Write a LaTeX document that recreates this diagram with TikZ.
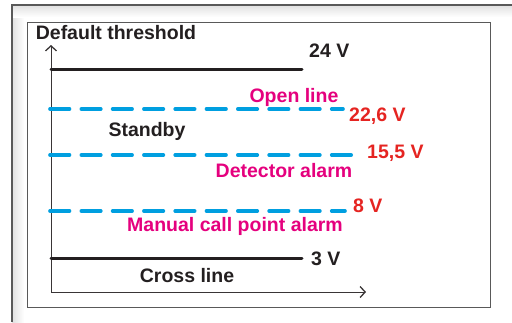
\documentclass[tikz,border=0pt]{standalone}
\usepackage{fontspec}
\setmainfont{Liberation Sans}
\usetikzlibrary{arrows.meta}
\definecolor{lineblue}{HTML}{009FE0}
\definecolor{magentatxt}{HTML}{E5007E}
\definecolor{redtxt}{HTML}{E52421}
\definecolor{darktxt}{HTML}{231F20}
\tikzset{
  lbl/.style={font=\fontsize{19.5pt}{21pt}\selectfont\bfseries, inner sep=0pt, text=darktxt},
  maglbl/.style={lbl, text=magentatxt},
  redlbl/.style={lbl, text=redtxt},
  solidlevel/.style={line width=3pt, draw=darktxt, line cap=round},
  dashlevel/.style={line width=3.6pt, draw=lineblue, line cap=round, dash pattern=on 19.5pt off 11.8pt},
  axisline/.style={line width=0.9pt, draw=darktxt!90, -{Straight Barb[length=5pt,width=11pt,line width=1.3pt]}},
}
\begin{document}
\begin{tikzpicture}[x=1pt,y=-1pt]
\useasboundingbox (0,0) rectangle (512,322);
\fill[white] (0,0) rectangle (512,322);
% outer frame with subtle shadow
\shade[left color=black!12, right color=white] (12,5) rectangle (24,322);
\shade[top color=black!12, bottom color=white] (12,5) rectangle (512,17);
\fill[white] (27,22) rectangle (490,307);
\draw[line width=1.2pt, draw=black!65] (12,322) -- (12,5) -- (512,5);
% inner frame
\draw[line width=0.9pt, draw=black!65] (27,22) rectangle (490,307);
% axes
\coordinate (O) at (51,292);
\coordinate (ytip) at (51,45);
\coordinate (xtip) at (366,292);
\draw[axisline] (O) -- (ytip);
\draw[axisline] (O) -- (xtip);
\node[lbl] (title) at (116,33) {Default threshold};
% 24 V
\coordinate (a1) at (51,69); \coordinate (a2) at (302,69);
\draw[solidlevel] (a1) -- (a2);
\node[lbl, anchor=west] (v24) at (309,51) {24 V};
% open line
\coordinate (b1) at (50,109); \coordinate (b2) at (343,109);
\draw[dashlevel] (b1) -- (b2);
\node[maglbl] (open) at (294,97) {Open line};
\node[redlbl, anchor=west] (v226) at (349,116) {22,6 V};
\node[lbl] (standby) at (147,131) {Standby};
% detector
\coordinate (c1) at (50,155); \coordinate (c2) at (355,155);
\draw[dashlevel] (c1) -- (c2);
\node[redlbl, anchor=west] (v155) at (367,153) {15,5 V};
\node[maglbl] (det) at (284,171) {Detector alarm};
% manual
\coordinate (d1) at (50,211); \coordinate (d2) at (345,211);
\draw[dashlevel] (d1) -- (d2);
\node[redlbl, anchor=west] (v8) at (353,206) {8 V};
\node[maglbl] (man) at (235,226) {Manual call point alarm};
% 3 V
\coordinate (e1) at (51,258); \coordinate (e2) at (302,258);
\draw[solidlevel] (e1) -- (e2);
\node[lbl, anchor=west] (v3) at (311,259) {3 V};
\node[lbl] (cross) at (187,276) {Cross line};
\end{tikzpicture}
\end{document}
